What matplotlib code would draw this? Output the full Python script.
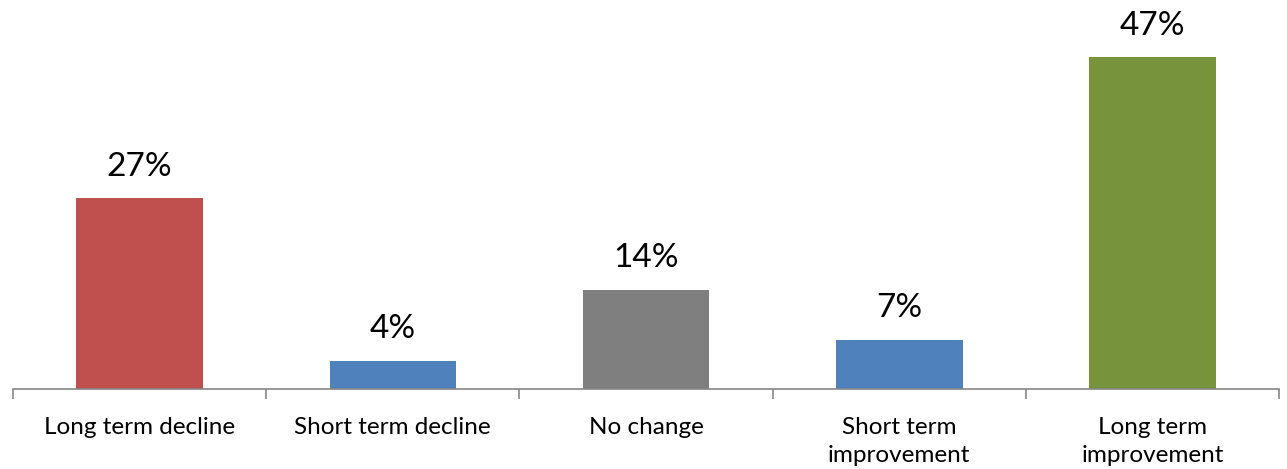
import matplotlib.pyplot as plt
import numpy as np

categories = ['Long term decline', 'Short term decline', 'No change',
              'Short term\nimprovement', 'Long term\nimprovement']
values = [27, 4, 14, 7, 47]
colors = ['#C0504D', '#4F81BD', '#7F7F7F', '#4F81BD', '#77933C']

plt.rcParams['font.family'] = ['Lato', 'DejaVu Sans']

fig = plt.figure(figsize=(12.87, 4.69), dpi=100)
ax = fig.add_axes([13 / 1287, 80 / 469, 1266 / 1287, 389 / 469])

x = np.arange(len(categories))
bars = ax.bar(x, values, width=0.5, color=colors)

for xi, v in zip(x, values):
    ax.annotate('%d%%' % v, (xi, v), xytext=(0, 12), textcoords='offset points',
                ha='center', va='bottom', fontsize=24, color='black')

ax.set_xlim(-0.5, len(categories) - 0.5)
ax.set_ylim(0, 55.1)

for side in ['top', 'right', 'left']:
    ax.spines[side].set_visible(False)
ax.spines['bottom'].set_color('#868686')
ax.spines['bottom'].set_linewidth(1.2)
ax.set_yticks([])

ax.set_xticks(np.arange(-0.5, len(categories), 1.0))
ax.set_xticklabels([])
ax.set_xticks(x, minor=True)
ax.set_xticklabels(categories, minor=True, fontsize=17.5, linespacing=1.4)
ax.tick_params(axis='x', which='major', length=7, width=1.2, color='#868686', direction='out')
ax.tick_params(axis='x', which='minor', length=0, pad=20)

fig.savefig('out.png', dpi=100)
